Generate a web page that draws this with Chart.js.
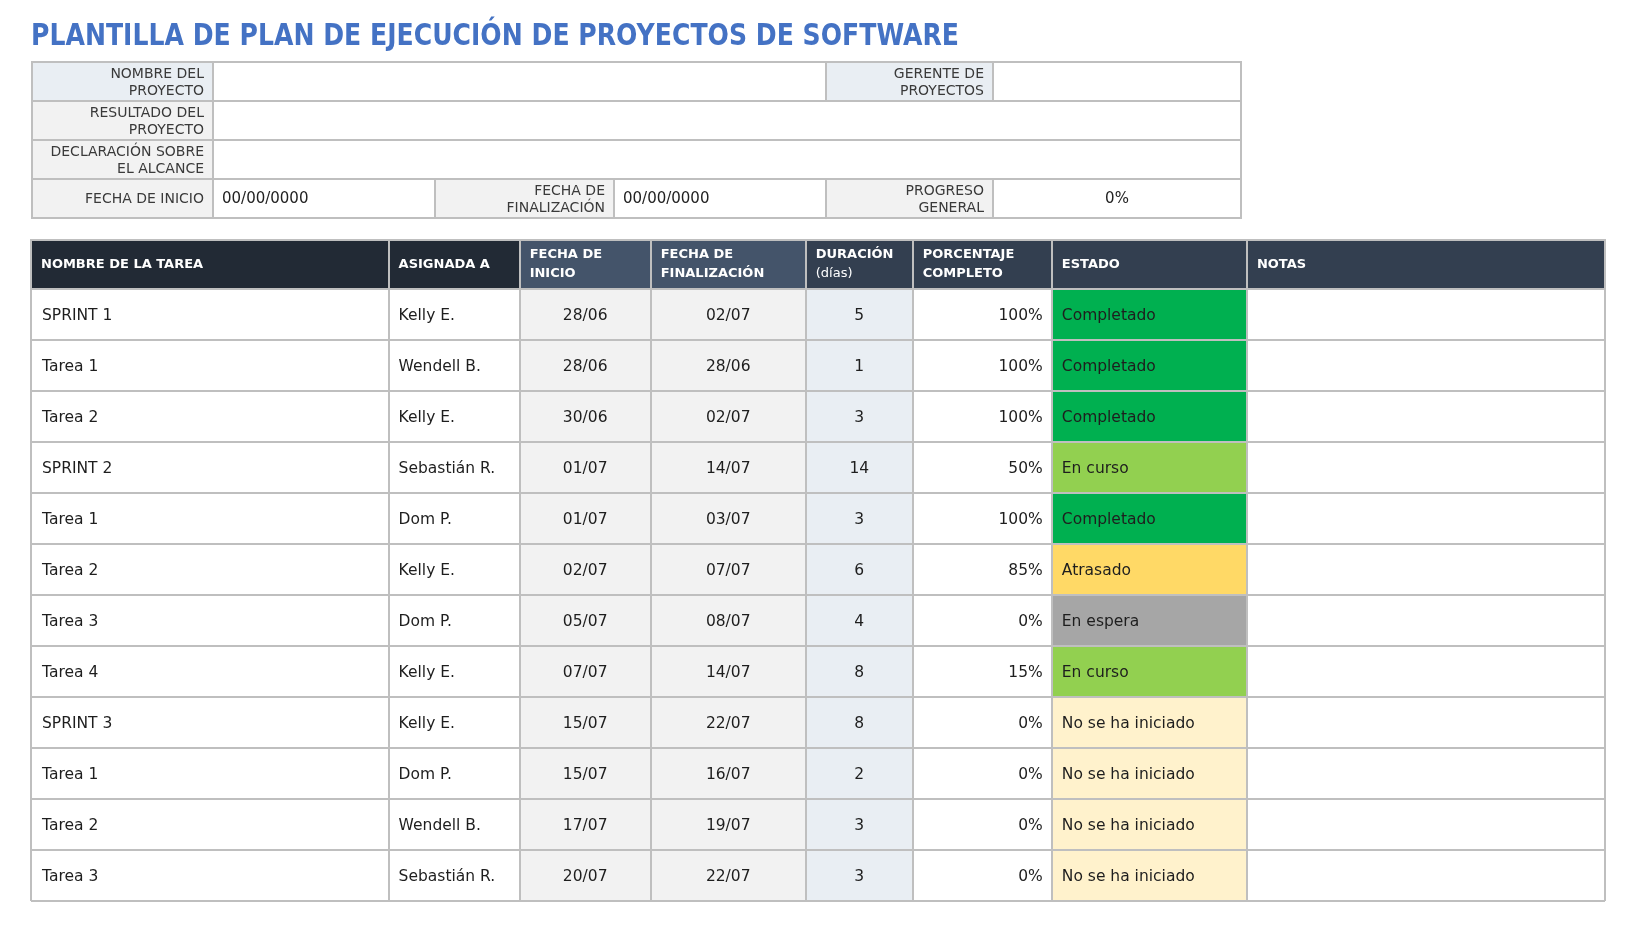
<!DOCTYPE html>
<html lang="es">
<head>
<meta charset="utf-8">
<title>Plantilla de plan de ejecución de proyectos de software</title>
<script src="https://cdn.jsdelivr.net/npm/chart.js@4.4.1/dist/chart.umd.min.js"></script>
<style>
  html, body { margin: 0; padding: 0; background: #fff; }
  canvas { display: block; }
</style>
</head>
<body>
<canvas id="planChart" width="1644" height="932"></canvas>
<script>
// task table
const tasks = ["SPRINT 1", "Tarea 1", "Tarea 2", "SPRINT 2", "Tarea 1", "Tarea 2", "Tarea 3", "Tarea 4", "SPRINT 3", "Tarea 1", "Tarea 2", "Tarea 3"];
const assignees = ["Kelly E.", "Wendell B.", "Kelly E.", "Sebastián R.", "Dom P.", "Kelly E.", "Dom P.", "Kelly E.", "Kelly E.", "Dom P.", "Wendell B.", "Sebastián R."];
const startDates = ["28/06", "28/06", "30/06", "01/07", "01/07", "02/07", "05/07", "07/07", "15/07", "15/07", "17/07", "20/07"];
const endDates = ["02/07", "28/06", "02/07", "14/07", "03/07", "07/07", "08/07", "14/07", "22/07", "16/07", "19/07", "22/07"];
const durations = [5, 1, 3, 14, 3, 6, 4, 8, 8, 2, 3, 3];
const percentComplete = [100, 100, 100, 50, 100, 85, 0, 15, 0, 0, 0, 0];
const statuses = ["Completado", "Completado", "Completado", "En curso", "Completado", "Atrasado", "En espera", "En curso", "No se ha iniciado", "No se ha iniciado", "No se ha iniciado", "No se ha iniciado"];
const notes = tasks.map(() => "");

const columnHeaders = [["NOMBRE DE LA TAREA"], ["ASIGNADA A"], ["FECHA DE", "INICIO"], ["FECHA DE", "FINALIZACIÓN"], ["DURACIÓN", "(días)"], ["PORCENTAJE", "COMPLETO"], ["ESTADO"], ["NOTAS"]];

// project info block
const title = "PLANTILLA DE PLAN DE EJECUCIÓN DE PROYECTOS DE SOFTWARE";
const projectStart = "00/00/0000";
const projectEnd = "00/00/0000";
const overallProgress = "0%";

const statusColors = {
  "Completado": "#00B050",
  "En curso": "#92D050",
  "Atrasado": "#FFD966",
  "En espera": "#A6A6A6",
  "No se ha iniciado": "#FFF2CC"
};

// layout / style
const colWidths = [357.5, 131, 131, 155, 107, 139, 195, 358];
const colEdges = colWidths.reduce((acc, w) => { acc.push(acc[acc.length - 1] + w); return acc; }, [0]);
const colFills = ["#FFFFFF", "#FFFFFF", "#F2F2F2", "#F2F2F2", "#E9EEF3", "#FFFFFF", null, "#FFFFFF"];
const headFills = ["#222A35", "#222A35", "#44546A", "#44546A", "#333F50", "#333F50", "#333F50", "#333F50"];
const colAlign = ["left", "left", "center", "center", "center", "right", "left", "left"];
const lineColor = "#BFBFBF";
const FONT = '"DejaVu Sans", sans-serif';

const cellText = [
  tasks,
  assignees,
  startDates,
  endDates,
  durations.map(String),
  percentComplete.map(p => p + "%"),
  statuses,
  notes
];

const datasets = columnHeaders.map((head, i) => ({
  label: head.join(" "),
  data: tasks.map(() => [colEdges[i], colEdges[i + 1]]),
  backgroundColor: i === 6 ? statuses.map(s => statusColors[s]) : colFills[i],
  borderWidth: 0,
  grouped: false,
  barPercentage: 1,
  categoryPercentage: 1
}));

function drawForm(ctx) {
  // title
  ctx.save();
  ctx.font = "bold 31px " + FONT;
  const w = ctx.measureText(title).width;
  ctx.translate(31, 45);
  ctx.scale(928 / w, 1);
  ctx.fillStyle = "#4472C4";
  ctx.textAlign = "left";
  ctx.textBaseline = "alphabetic";
  ctx.fillText(title, 0, 0);
  ctx.restore();

  const X = [32, 213, 435, 614, 826, 993, 1241];
  const Y = [62, 101, 140, 179, 218];
  const label = "#F2F2F2", labelBlue = "#E9EEF3";
  const cells = [
    { x0: X[0], x1: X[1], r: 0, fill: labelBlue, text: ["NOMBRE DEL", "PROYECTO"], align: "right" },
    { x0: X[1], x1: X[4], r: 0, fill: "#fff" },
    { x0: X[4], x1: X[5], r: 0, fill: labelBlue, text: ["GERENTE DE", "PROYECTOS"], align: "right" },
    { x0: X[5], x1: X[6], r: 0, fill: "#fff" },
    { x0: X[0], x1: X[1], r: 1, fill: label, text: ["RESULTADO DEL", "PROYECTO"], align: "right" },
    { x0: X[1], x1: X[6], r: 1, fill: "#fff" },
    { x0: X[0], x1: X[1], r: 2, fill: label, text: ["DECLARACIÓN SOBRE", "EL ALCANCE"], align: "right" },
    { x0: X[1], x1: X[6], r: 2, fill: "#fff" },
    { x0: X[0], x1: X[1], r: 3, fill: label, text: ["FECHA DE INICIO"], align: "right" },
    { x0: X[1], x1: X[2], r: 3, fill: "#fff", text: [projectStart], align: "left", value: true },
    { x0: X[2], x1: X[3], r: 3, fill: label, text: ["FECHA DE", "FINALIZACIÓN"], align: "right" },
    { x0: X[3], x1: X[4], r: 3, fill: "#fff", text: [projectEnd], align: "left", value: true },
    { x0: X[4], x1: X[5], r: 3, fill: label, text: ["PROGRESO", "GENERAL"], align: "right" },
    { x0: X[5], x1: X[6], r: 3, fill: "#fff", text: [overallProgress], align: "center", value: true }
  ];
  ctx.save();
  cells.forEach(c => {
    const y0 = Y[c.r], y1 = Y[c.r + 1];
    ctx.fillStyle = c.fill;
    ctx.fillRect(c.x0, y0, c.x1 - c.x0, y1 - y0);
  });
  ctx.strokeStyle = lineColor;
  ctx.lineWidth = 2;
  cells.forEach(c => {
    ctx.strokeRect(c.x0, Y[c.r], c.x1 - c.x0, Y[c.r + 1] - Y[c.r]);
  });
  ctx.textBaseline = "middle";
  cells.forEach(c => {
    if (!c.text) return;
    const y0 = Y[c.r], y1 = Y[c.r + 1];
    const mid = (y0 + y1) / 2;
    ctx.font = (c.value ? "15px " : "14px ") + FONT;
    ctx.fillStyle = c.value ? "#222" : "#3a3a3a";
    ctx.textAlign = c.align;
    const tx = c.align === "right" ? c.x1 - 9 : c.align === "left" ? c.x0 + 9 : (c.x0 + c.x1) / 2;
    const lh = 17;
    c.text.forEach((t, k) => {
      ctx.fillText(t, tx, mid + 1 + (k - (c.text.length - 1) / 2) * lh);
    });
  });
  ctx.restore();
}

const tablePlugin = {
  id: "tablePlugin",
  beforeDraw(chart) {
    const ctx = chart.ctx;
    ctx.save();
    ctx.fillStyle = "#fff";
    ctx.fillRect(0, 0, chart.width, chart.height);
    ctx.restore();
    drawForm(ctx);

    // header row, placed on the x scale
    const xs = chart.scales.x;
    const top = chart.chartArea.top;
    const hTop = top - 49;
    ctx.save();
    columnHeaders.forEach((head, i) => {
      const a = Math.round(xs.getPixelForValue(colEdges[i]));
      const b = Math.round(xs.getPixelForValue(colEdges[i + 1]));
      ctx.fillStyle = headFills[i];
      ctx.fillRect(a, hTop, b - a, top - hTop);
    });
    ctx.strokeStyle = lineColor;
    ctx.lineWidth = 2;
    ctx.beginPath();
    colEdges.forEach(v => {
      const p = Math.round(xs.getPixelForValue(v));
      ctx.moveTo(p, hTop);
      ctx.lineTo(p, top);
    });
    ctx.moveTo(Math.round(xs.left) - 1, hTop);
    ctx.lineTo(Math.round(xs.right) + 1, hTop);
    ctx.stroke();

    ctx.fillStyle = "#fff";
    ctx.textAlign = "left";
    ctx.textBaseline = "middle";
    const mid = (hTop + top) / 2;
    columnHeaders.forEach((head, i) => {
      const a = xs.getPixelForValue(colEdges[i]);
      head.forEach((t, k) => {
        const plainLine = t.startsWith("(");
        ctx.font = (plainLine ? "13px " : "bold 13px ") + FONT;
        ctx.fillText(t, a + 10, mid + (k - (head.length - 1) / 2) * 19);
      });
    });
    ctx.restore();
  },
  afterDatasetsDraw(chart) {
    const ctx = chart.ctx;
    ctx.save();
    ctx.font = "15.5px " + FONT;
    ctx.fillStyle = "#1e1e1e";
    ctx.textBaseline = "middle";
    chart.data.datasets.forEach((ds, i) => {
      const meta = chart.getDatasetMeta(i);
      meta.data.forEach((bar, r) => {
        const p = bar.getProps(["x", "base", "y"], true);
        const left = Math.min(p.x, p.base), right = Math.max(p.x, p.base);
        const t = cellText[i][r];
        if (!t) return;
        ctx.textAlign = colAlign[i];
        const tx = colAlign[i] === "left" ? left + 10 : colAlign[i] === "right" ? right - 9 : (left + right) / 2;
        ctx.fillText(t, tx, p.y + 1);
      });
    });
    ctx.restore();
  }
};

const ctx = document.getElementById("planChart").getContext("2d");
const planChart = new Chart(ctx, {
  type: "bar",
  data: { labels: tasks, datasets: datasets },
  options: {
    indexAxis: "y",
    responsive: false,
    animation: false,
    events: [],
    layout: { padding: { top: 289, left: 31, right: 39, bottom: 31 } },
    plugins: { legend: { display: false }, tooltip: { enabled: false }, title: { display: false } },
    scales: {
      x: {
        type: "linear",
        min: 0,
        max: colEdges[colEdges.length - 1],
        afterBuildTicks: scale => { scale.ticks = colEdges.map(v => ({ value: v })); },
        ticks: { display: false },
        grid: { color: lineColor, lineWidth: 2, drawTicks: false, z: 1 },
        border: { display: false }
      },
      y: {
        type: "category",
        offset: true,
        ticks: { display: false },
        grid: { color: lineColor, lineWidth: 2, drawTicks: false, offset: true, z: 1 },
        border: { display: false }
      }
    }
  },
  plugins: [tablePlugin]
});
</script>
</body>
</html>
